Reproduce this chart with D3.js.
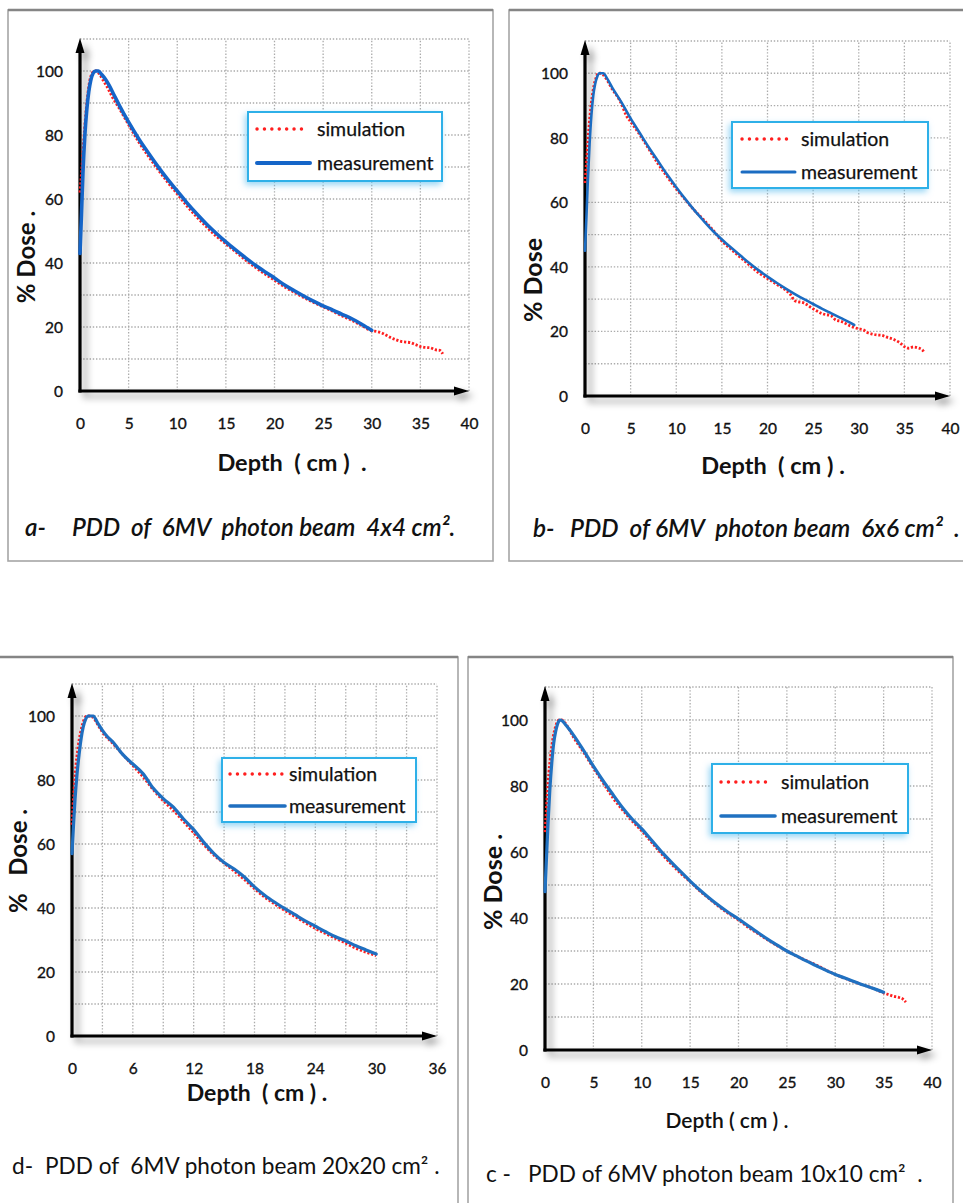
<!DOCTYPE html>
<html><head><meta charset="utf-8">
<script src="https://cdn.jsdelivr.net/npm/d3@7"></script>
<style>
html,body{margin:0;padding:0;background:#fff;}
svg{display:block;font-family:Lato,"Open Sans",sans-serif;}
</style></head><body>
<svg id="chart" width="963" height="1203"></svg>
<script>
// ---------------- data ----------------
const doseTicks = [0, 20, 40, 60, 80, 100];
const depthTicks40 = [0, 5, 10, 15, 20, 25, 30, 35, 40];
const depthTicks36 = [0, 6, 12, 18, 24, 30, 36];
const legendLabels = ["simulation", "measurement"];

// a - 4x4
const measDepthA = [0,0.15,0.3,0.5,0.7,0.9,1.1,1.35,1.6,1.9,2.2,2.6,3.0,3.5,4,5,6,7,8,9,10,11,12,13,14,15,16,17,18,19,20,21,22,23,24,25,26,27,28,29,30];
const measDoseA  = [43,55,68,80,88,93.5,97,99.3,100,100,99,97.5,95.5,92.5,89.5,84,79,74.5,70.2,66.2,62.5,58.8,55.4,52.2,49.3,46.6,44.1,41.7,39.4,37.3,35.3,33.2,31.4,29.7,28.1,26.6,25.3,23.9,22.5,20.8,19];
const simDepthA  = [0,0.1,0.25,0.4,0.55,0.7,0.85,1.0,1.2,1.45,1.7,2.0,2.4,2.8,3.3,4,5,6,7,8,9,10,11,12,13,14,15,16,17,18,19,20,21,22,23,24,25,26,27,28,29,30,30.5,31,31.5,32,32.5,33,33.5,34,34.5,35,35.5,36,36.5,37,37.3];
const simDoseA   = [62,66,72,79,85,90,94,97,99,100,100,99,97,95,92,88.5,83.2,78,73.5,69.3,65.3,61.6,57.8,54.4,51.3,48.4,46,43.5,41,38.7,36.6,34.6,32.6,30.9,29.2,27.7,26.3,24.9,23.4,22,20.4,18.8,18.6,18.2,17.4,16.6,16,15.5,15.3,15.1,14.5,13.9,13.6,13.5,12.9,12.7,11.6];

// b - 6x6
const measDepthB = [0,0.15,0.3,0.5,0.7,0.9,1.1,1.35,1.6,2.0,2.4,3,4,5,6,7,8,9,10,11,12,13,14,15,16,17,18,19,20,21,22,23,24,25,26,27,28,29,29.5];
const measDoseB  = [45,55,66,78,87,93,96.5,99,100,100,98.5,95.5,91,86,81.5,77,72.8,68.6,64.7,61,57.5,54.3,51.2,48.5,46,43.6,41.2,39,37,35.1,33.3,31.6,30,28.5,27,25.6,24.2,22.8,22];
const simDepthB  = [0,0.1,0.25,0.4,0.55,0.7,0.85,1.0,1.2,1.45,1.7,2.0,2.5,3,3.5,4,4.5,5,5.5,6,7,8,9,10,11,12,13,14,15,16,17,18,19,20,21,22,22.5,23,24,25,26,27,27.5,28,29,30,30.5,31,31.5,32,32.5,33,34,34.5,35,35.5,36,36.5,37,37.2];
const simDoseB   = [66,70,76,82,87,91,94,96.5,98.5,100,100,99.5,97.5,95,93,90.5,87,85,83,81,76.5,72,68,64.2,60.8,57.5,54.6,51.5,48,45.5,43,40.6,38.2,36.4,34.6,32.8,31.5,29.5,28.8,27,25.5,24.8,23.5,23.2,21.8,20.8,20.5,19.6,19.2,18.9,18.8,18.3,17.3,16.5,15.3,14.8,15.2,14.9,14.2,13.4];

// c - 10x10
const measDepthC = [0,0.15,0.3,0.5,0.7,0.9,1.1,1.3,1.55,1.8,2.2,3,4,5,6,7,8,9,10,11,12,13,14,15,16,17,18,19,20,21,22,23,24,25,26,27,28,29,30,31,32,33,34,35];
const measDoseC  = [48,58,68,79,87,93,96.5,98.8,100,99.7,98.3,95.2,90.7,86,81.6,77.5,73.5,70,67,63.6,60.2,57.1,54.1,51.2,48.5,46,43.7,41.6,39.7,37.6,35.6,33.6,31.8,30,28.5,27,25.6,24.2,22.9,21.8,20.7,19.6,18.6,17.5];
const simDepthC  = [0,0.1,0.25,0.4,0.55,0.7,0.85,1.0,1.2,1.45,1.7,2.1,3,4,5,6,7,8,9,10,11,12,13,14,15,16,17,18,19,20,21,22,23,24,25,26,27,28,29,30,31,32,33,34,35,35.5,36,36.5,37,37.3];
const simDoseC   = [66,71,78,84,88.5,92,95,97,99,100,100,99,94.5,90.2,85.5,81,76.5,72.8,69.4,66.4,63,59.6,56.5,53.6,51,48.2,45.8,43.4,41.3,39.4,37.2,35.3,33.4,31.6,30,28.5,27.1,25.8,24.3,22.9,21.7,20.6,19.6,18.6,17.3,16.8,16.3,16,15.4,14.5];

// d - 20x20
const measDepthD = [0,0.15,0.3,0.5,0.7,0.9,1.1,1.35,1.6,2.1,2.5,3,3.5,4,4.5,5,6,7,8,9,10,11,12,13,14,15,16,17,18,19,20,21,22,23,24,25,26,27,28,29,30];
const measDoseD  = [57,66,74,82,88,93,96.5,99,100,100,98,95.5,93.5,92,90,88,85,82,77.5,74.2,71.5,67.8,64.5,60.5,57,54.2,52.2,49.7,46.6,44,41.8,39.8,37.9,36,34.3,32.6,31,29.7,28.2,26.9,25.6];
const simDepthD  = [0,0.1,0.25,0.4,0.55,0.7,0.85,1.0,1.2,1.45,1.7,2.1,2.5,3,4,5,6,7,8,9,10,11,12,13,14,15,16,17,18,19,20,21,22,23,24,25,26,27,28,29,30];
const simDoseD   = [66,72,79,85,89,92.5,95,97,99,100,100,99.5,97.5,95,91.5,88,84.5,81,77,73.5,70.5,67,63.5,59.8,56.5,54,51.5,48.9,46,43.4,41.2,39.2,37.3,35.4,33.6,32,30.5,29,27.4,26.2,25.1];

const xTitles = ["Depth  ( cm )  .", "Depth  ( cm ) .", "Depth ( cm ) .", "Depth  ( cm ) ."];
const yTitles = ["% Dose .", "% Dose", "% Dose .", "%   Dose ."];
const captionPrefixes = ["a-", "b-", "c -", "d-"];
const captionTexts = ["PDD  of  6MV  photon beam  4x4 cm\u00B2.", "PDD  of 6MV  photon beam  6x6 cm\u00B2  .", "PDD of 6MV photon beam 10x10 cm\u00B2  .", "PDD of  6MV photon beam 20x20 cm\u00B2 ."];

// ---------------- drawing ----------------
const svg = d3.select("#chart");
const defs = svg.append("defs");
const sh = defs.append("filter").attr("id","axShadow").attr("x","-50%").attr("y","-50%").attr("width","200%").attr("height","200%");
sh.append("feDropShadow").attr("dx",5).attr("dy",5).attr("stdDeviation",3.5).attr("flood-color","#000").attr("flood-opacity",0.4);
const gl = defs.append("filter").attr("id","legGlow").attr("x","-20%").attr("y","-30%").attr("width","140%").attr("height","160%");
gl.append("feDropShadow").attr("dx",-2).attr("dy",3).attr("stdDeviation",3).attr("flood-color","#6cc4f0").attr("flood-opacity",0.7);

const panels = [
  {frame:[8,10,493,561], left:80, right:469, bottom:391, top:39, xmax:40, ticks:depthTicks40, gridStep:5,
   meas:[measDepthA,measDoseA], sim:[simDepthA,simDoseA], blueW:3.6, blue:"#1565c8",
   xt:xTitles[0], xtPos:[292,463], xtW:"bold", xtSize:23.5, yt:yTitles[0], ytPos:[27,257], ytSize:24,
   leg:[248,112,442,181], legSimY:129, legMeasY:163, legX0:257, legX1:310, legTx:317,
   cap:0, capY:528, capPre:25, capX:72, capSize:24.2, capItalic:true, capWeight:"600"},
  {frame:[509,10,975,561], left:585, right:950, bottom:396, top:41, xmax:40, ticks:depthTicks40, gridStep:5,
   meas:[measDepthB,measDoseB], sim:[simDepthB,simDoseB], blueW:2.6, blue:"#1b6cc2",
   xt:xTitles[1], xtPos:[773,466], xtW:"bold", xtSize:23.5, yt:yTitles[1], ytPos:[533,280], ytSize:25,
   leg:[732,122,928,188], legSimY:139, legMeasY:172, legX0:742, legX1:795, legTx:801,
   cap:1, capY:528, capPre:533, capX:570, capSize:24.4, capItalic:true, capWeight:"600"},
  {frame:[468,657,953,1215], left:545, right:932, bottom:1050, top:687, xmax:40, ticks:depthTicks40, gridStep:5,
   meas:[measDepthC,measDoseC], sim:[simDepthC,simDoseC], blueW:3.2, blue:"#2071c1",
   xt:xTitles[2], xtPos:[727,1121], xtW:"600", xtSize:21, yt:yTitles[2], ytPos:[493,882], ytSize:25,
   leg:[712,764,908,833], legSimY:782, legMeasY:816, legX0:721, legX1:775, legTx:781,
   cap:2, capY:1174, capPre:486, capX:528, capSize:22.6, capItalic:false, capWeight:"normal"},
  {frame:[-5,657,458,1215], left:72, right:437, bottom:1036, top:684, xmax:36, ticks:depthTicks36, gridStep:3,
   meas:[measDepthD,measDoseD], sim:[simDepthD,simDoseD], blueW:3.2, blue:"#1f6fc0",
   xt:xTitles[3], xtPos:[257,1093], xtW:"bold", xtSize:23, yt:yTitles[3], ytPos:[19,861], ytSize:24,
   leg:[222,758,416,822], legSimY:774, legMeasY:806, legX0:230, legX1:285, legTx:289,
   cap:3, capY:1166, capPre:12, capX:45, capSize:22.6, capItalic:false, capWeight:"normal"}
];

panels.forEach(p => {
  const g = svg.append("g");
  const [fx0, fy0, fx1, fy1] = p.frame;
  g.append("rect").attr("x",fx0).attr("y",fy0).attr("width",fx1-fx0).attr("height",fy1-fy0)
    .attr("fill","#fff").attr("stroke","#a6a6a6").attr("stroke-width",1.6);
  g.append("line").attr("x1",fx0).attr("x2",fx1).attr("y1",fy0).attr("y2",fy0)
    .attr("stroke","#858585").attr("stroke-width",2.6);

  const x = d3.scaleLinear().domain([0,p.xmax]).range([p.left,p.right]);
  const y = d3.scaleLinear().domain([0,110]).range([p.bottom,p.top]);

  // grid
  const gx = d3.range(0, p.xmax + 0.001, p.gridStep);
  const gy = d3.range(0, 110.001, 10);
  const grid = g.append("g").attr("stroke","#ababab").attr("stroke-width",1.3).attr("stroke-dasharray","1.4,1.8");
  grid.selectAll(".gv").data(gx).join("line").attr("x1",d=>x(d)).attr("x2",d=>x(d)).attr("y1",y(0)).attr("y2",y(110));
  grid.selectAll(".gh").data(gy).join("line").attr("x1",x(0)).attr("x2",x(p.xmax)).attr("y1",d=>y(d)).attr("y2",d=>y(d));

  // axes with shadow
  const ax = g.append("g").attr("filter","url(#axShadow)");
  ax.append("line").attr("x1",x(0)).attr("x2",x(0)).attr("y1",y(0)+1.5).attr("y2",y(110)+12).attr("stroke","#000").attr("stroke-width",3.2);
  ax.append("path").attr("d",`M${x(0)},${y(110)-1} L${x(0)-4.5},${y(110)+14} L${x(0)+4.5},${y(110)+14} Z`).attr("fill","#000");
  ax.append("line").attr("x1",x(0)-1.6).attr("x2",x(p.xmax)-12).attr("y1",y(0)).attr("y2",y(0)).attr("stroke","#000").attr("stroke-width",3.2);
  ax.append("path").attr("d",`M${x(p.xmax)},${y(0)} L${x(p.xmax)-15},${y(0)-4.5} L${x(p.xmax)-15},${y(0)+4.5} Z`).attr("fill","#000");

  // tick labels
  const xa = g.append("g").attr("transform",`translate(0,${y(0)})`)
    .call(d3.axisBottom(x).tickValues(p.ticks).tickSize(0).tickFormat(d3.format("d")));
  xa.select(".domain").remove();
  xa.selectAll("text").attr("y",33).attr("dy","0.35em").attr("font-size",15.5).attr("font-family","Lato")
    .attr("fill","#111").attr("stroke","#111").attr("stroke-width",0.35);
  const ya = g.append("g").attr("transform",`translate(${x(0)},0)`)
    .call(d3.axisLeft(y).tickValues(doseTicks).tickSize(0).tickPadding(17).tickFormat(d3.format("d")));
  ya.select(".domain").remove();
  ya.selectAll("text").attr("dy","0.35em").attr("font-size",15.5).attr("font-family","Lato")
    .attr("fill","#111").attr("stroke","#111").attr("stroke-width",0.35);

  // lines
  const simPts = p.sim[0].map((d,i)=>[d, p.sim[1][i]]);
  const measPts = p.meas[0].map((d,i)=>[d, p.meas[1][i]]);
  const line = d3.line().x(d=>x(d[0])).y(d=>y(d[1])).curve(d3.curveMonotoneX);
  g.append("path").attr("d",line(simPts)).attr("fill","none").attr("stroke","#ff1f1f")
    .attr("stroke-width",2.8).attr("stroke-dasharray","2.2,1.8");
  g.append("path").attr("d",line(measPts)).attr("fill","none").attr("stroke",p.blue)
    .attr("stroke-width",p.blueW).attr("stroke-linejoin","round").attr("stroke-linecap","round");

  // legend
  const [lx0, ly0, lx1, ly1] = p.leg;
  g.append("rect").attr("x",lx0).attr("y",ly0).attr("width",lx1-lx0).attr("height",ly1-ly0)
    .attr("fill","#fff").attr("stroke","#2fb0e8").attr("stroke-width",2).attr("filter","url(#legGlow)");
  g.append("line").attr("x1",p.legX0).attr("x2",p.legX1-3).attr("y1",p.legSimY).attr("y2",p.legSimY)
    .attr("stroke","#ff1f1f").attr("stroke-width",3.4).attr("stroke-linecap","round").attr("stroke-dasharray","0.1,7.3");
  g.append("line").attr("x1",p.legX0).attr("x2",p.legX1).attr("y1",p.legMeasY).attr("y2",p.legMeasY)
    .attr("stroke",p.blue).attr("stroke-width",p.blueW+0.4).attr("stroke-linecap","round");
  g.selectAll(".lt").data(legendLabels).join("text")
    .attr("x",p.legTx).attr("y",(d,i)=> i===0 ? p.legSimY : p.legMeasY).attr("dy","0.35em")
    .attr("font-size",19.5).attr("fill","#111").attr("stroke","#111").attr("stroke-width",0.25).text(d=>d);

  // axis titles
  g.append("text").attr("x",p.xtPos[0]).attr("y",p.xtPos[1]).attr("dy","0.35em").attr("text-anchor","middle")
    .attr("font-size",p.xtSize).attr("font-weight",p.xtW).attr("fill","#111").style("white-space","pre").text(p.xt);
  g.append("text").attr("transform",`translate(${p.ytPos[0]},${p.ytPos[1]}) rotate(-90)`).attr("dy","0.35em").attr("text-anchor","middle")
    .attr("font-size",p.ytSize).attr("font-weight","bold").attr("fill","#111").style("white-space","pre").text(p.yt);

  // caption
  const cap = g.append("g").attr("font-size",p.capSize).attr("font-style",p.capItalic?"italic":"normal")
    .attr("font-weight",p.capWeight).attr("fill","#111");
  cap.append("text").attr("x",p.capPre).attr("y",p.capY).attr("dy","0.35em").text(captionPrefixes[p.cap]);
  cap.append("text").attr("x",p.capX).attr("y",p.capY).attr("dy","0.35em").style("white-space","pre").text(captionTexts[p.cap]);
});
</script>
</body></html>
